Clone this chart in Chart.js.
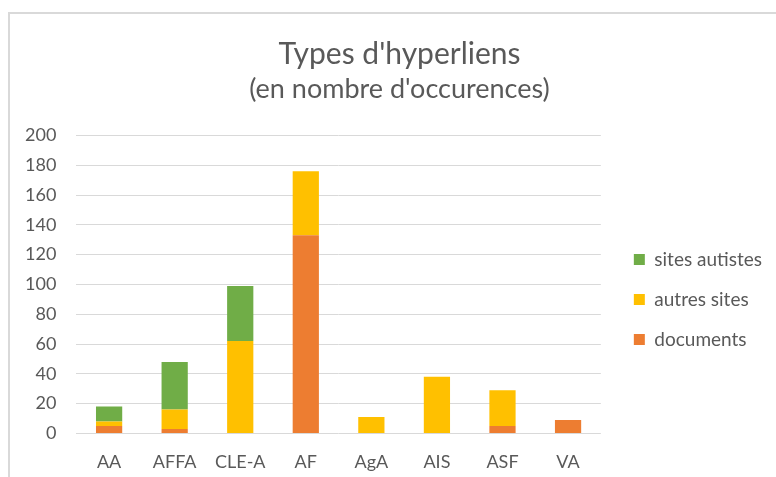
<!DOCTYPE html>
<html>
<head>
<meta charset="utf-8">
<script src="https://cdn.jsdelivr.net/npm/chart.js@4"></script>
<style>
  html, body { margin: 0; padding: 0; width: 776px; height: 477px; overflow: hidden; background: #fff; }
  #frame { position: absolute; left: 8px; top: 12px; width: 800px; height: 500px; border: 2px solid #d9d9d9; background: #fff; }
  #c { position: absolute; left: 0; top: 0; }
</style>
</head>
<body>
<div id="frame"></div>
<canvas id="c" width="800" height="500" style="width:800px;height:500px"></canvas>
<script>
const categories = ['AA', 'AFFA', 'CLE-A', 'AF', 'AgA', 'AIS', 'ASF', 'VA'];
const documents = [5, 3, 0, 133, 0, 0, 5, 9];
const autresSites = [3, 13, 62, 43, 11, 38, 24, 0];
const sitesAutistes = [10, 32, 37, 0, 0, 0, 0, 0];
const yTicks = [0, 20, 40, 60, 80, 100, 120, 140, 160, 180, 200];

const FONT = 'Lato, "Open Sans", sans-serif';
const GREY = '#595959';

const boxShift = {
  id: 'boxShift',
  afterLayout(chart) {
    const lg = chart.legend;
    if (lg) {
      lg.left += 12; lg.right += 12;
      lg.top += 54; lg.bottom += 54;
    }
    chart.boxes.forEach(b => {
      if (b !== lg && b.position === 'top' && b.options && b.options.text !== undefined) {
        b.left += 17; b.right += 17;
      }
    });
  }
};

new Chart(document.getElementById('c'), {
  type: 'bar',
  data: {
    labels: categories,
    datasets: [
      { label: 'documents', data: documents, backgroundColor: '#ED7D31' },
      { label: 'autres sites', data: autresSites, backgroundColor: '#FFC000' },
      { label: 'sites autistes', data: sitesAutistes, backgroundColor: '#70AD47' }
    ]
  },
  plugins: [boxShift],
  options: {
    responsive: false,
    animation: false,
    layout: { padding: { left: 5, right: 40, top: 0, bottom: 9 } },
    datasets: { bar: { categoryPercentage: 1, barPercentage: 0.4 } },
    plugins: {
      title: {
        display: true,
        text: "Types d'hyperliens",
        color: GREY,
        font: { family: FONT, size: 30, weight: 'normal' },
        padding: { top: 36, bottom: 1 }
      },
      subtitle: {
        display: true,
        text: "(en nombre d'occurences)",
        color: GREY,
        font: { family: FONT, size: 27, weight: 'normal' },
        padding: { top: 0, bottom: 30 }
      },
      legend: {
        position: 'right',
        reverse: true,
        labels: {
          color: GREY,
          font: { family: FONT, size: 19 },
          boxWidth: 11,
          boxHeight: 11,
          padding: 21
        }
      },
      tooltip: { enabled: false }
    },
    scales: {
      x: {
        stacked: true,
        grid: { display: false, drawTicks: false },
        border: { display: false },
        ticks: { color: GREY, font: { family: FONT, size: 18 }, padding: 18 }
      },
      y: {
        stacked: true,
        min: 0,
        max: 200,
        afterBuildTicks(axis) { axis.ticks = yTicks.map(v => ({ value: v })); },
        grid: { color: '#d9d9d9', lineWidth: 1, drawTicks: false },
        border: { display: false },
        ticks: { color: GREY, font: { family: FONT, size: 18 }, padding: 20 }
      }
    }
  }
});
</script>
</body>
</html>
